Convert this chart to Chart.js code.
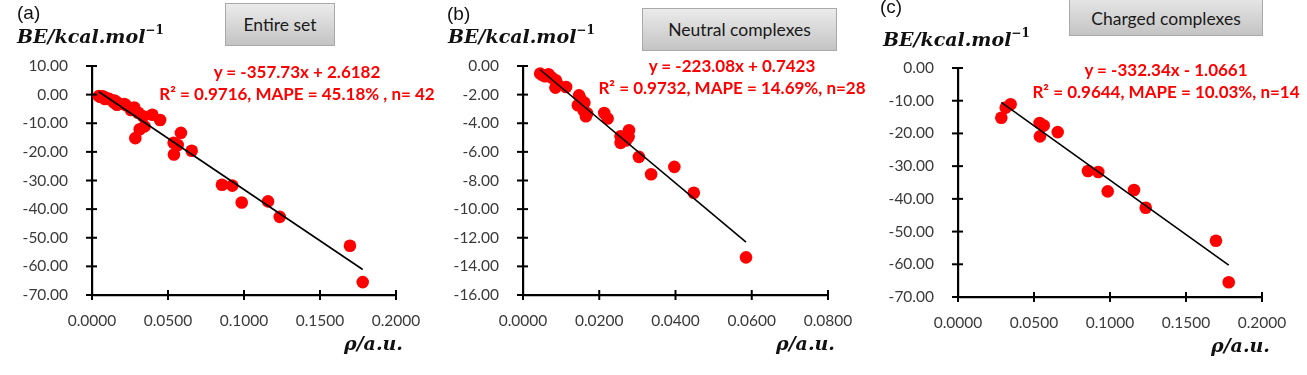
<!DOCTYPE html>
<html>
<head>
<meta charset="utf-8">
<script src="https://cdn.jsdelivr.net/npm/chart.js@4.4.1/dist/chart.umd.min.js"></script>
<style>
  html, body { margin: 0; padding: 0; background: #fff; }
  body { width: 1307px; height: 375px; position: relative; overflow: hidden; }
  .panel { position: absolute; top: 0; height: 375px; }
  canvas { position: absolute; left: 0; top: 0; }
  .lbl { position: absolute; white-space: nowrap; }
  .tag { font-family: "Liberation Sans", Arial, sans-serif; font-size: 19px; color: #111; }
  .ytitle { font-family: "DejaVu Serif", serif; font-weight: bold; font-style: italic; font-size: 19px; color: #111; }
  .ytitle sup { font-style: normal; font-size: 12px; position: relative; top: -2px; }
  .xtitle { font-family: "DejaVu Serif", serif; font-weight: bold; font-style: italic; font-size: 19px; color: #111; }
  .box { position: absolute; box-sizing: border-box; border: 1px solid #a9a9a9;
         background: linear-gradient(#ebebeb, #c4c4c4); font-family: Lato, "Open Sans", sans-serif;
         font-size: 17.5px; color: #1a1a1a; display: flex; align-items: center; justify-content: center; }
  .eq { position: absolute; white-space: nowrap; transform: translateX(-50%);
        font-family: Lato, "Open Sans", sans-serif; font-weight: bold; font-size: 17px; color: #ff0000; }
</style>
</head>
<body>
<div class="panel" id="pa" style="left:0;width:436px;"><canvas id="ca" width="436" height="375"></canvas></div>
<div class="panel" id="pb" style="left:430px;width:436px;"><canvas id="cb" width="436" height="375"></canvas></div>
<div class="panel" id="pc" style="left:860px;width:447px;"><canvas id="cc" width="447" height="375"></canvas></div>

<div class="lbl tag" style="left:17px;top:2px;">(a)</div>
<div class="lbl tag" style="left:447px;top:3px;">(b)</div>
<div class="lbl tag" style="left:880px;top:-4px;">(c)</div>

<div class="lbl ytitle" style="left:17px;top:25px;">BE/kcal.mol<sup>−1</sup></div>
<div class="lbl ytitle" style="left:448px;top:25px;">BE/kcal.mol<sup>−1</sup></div>
<div class="lbl ytitle" style="left:883px;top:28px;">BE/kcal.mol<sup>−1</sup></div>

<div class="lbl xtitle" style="left:344px;top:332px;">ρ/a.u.</div>
<div class="lbl xtitle" style="left:776px;top:332px;">ρ/a.u.</div>
<div class="lbl xtitle" style="left:1211px;top:334px;">ρ/a.u.</div>

<div class="box" style="left:225px;top:3px;width:110px;height:43px;">Entire set</div>
<div class="box" style="left:642px;top:8px;width:195px;height:43px;">Neutral complexes</div>
<div class="box" style="left:1069px;top:-8px;width:194px;height:44px;padding-top:8px;">Charged complexes</div>

<div class="eq" style="left:297px;top:61px;">y = -357.73x + 2.6182</div>
<div class="eq" style="left:297px;top:83px;">R² = 0.9716, MAPE = 45.18% , n= 42</div>
<div class="eq" style="left:732px;top:55px;">y = -223.08x + 0.7423</div>
<div class="eq" style="left:732px;top:77px;">R² = 0.9732, MAPE = 14.69%, n=28</div>
<div class="eq" style="left:1166px;top:59px;">y = -332.34x - 1.0661</div>
<div class="eq" style="left:1166px;top:81px;">R² = 0.9644, MAPE = 10.03%, n=14</div>

<script>
// ---- data (rho in a.u., BE in kcal/mol) ----
const neutralRho = [0.0045, 0.0052, 0.0058, 0.0067, 0.0075, 0.0086, 0.0085, 0.0090, 0.0113, 0.0147,
                    0.0144, 0.0152, 0.0161, 0.0159, 0.0165, 0.0168, 0.0213, 0.0222, 0.0256, 0.0256,
                    0.0278, 0.0277, 0.0270, 0.0304, 0.0336, 0.0397, 0.0448, 0.0585];
const neutralBE  = [-0.53, -0.65, -0.72, -0.58, -0.80, -1.00, -1.51, -1.25, -1.47, -2.05,
                    -2.74, -2.35, -2.56, -3.09, -3.51, -3.30, -3.28, -3.67, -4.91, -5.37,
                    -4.49, -4.95, -5.20, -6.35, -7.56, -7.05, -8.86, -13.37];
const chargedRho = [0.0285, 0.0314, 0.0346, 0.0537, 0.0564, 0.0539, 0.0656, 0.0855, 0.0923, 0.0985,
                    0.1158, 0.1235, 0.1697, 0.1781];
const chargedBE  = [-15.2, -12.1, -11.1, -16.8, -17.6, -20.9, -19.6, -31.5, -31.8, -37.7,
                    -37.3, -42.7, -52.8, -65.5];
// entire set = neutral + charged (n = 42)
const entireRho = neutralRho.concat(chargedRho);
const entireBE  = neutralBE.concat(chargedBE);

// regression lines as printed
const slopes     = [-357.73, -223.08, -332.34];
const intercepts = [2.6182, 0.7423, -1.0661];

// axis ranges / tick steps
const xMax   = [0.2, 0.08, 0.2];
const xStep  = [0.05, 0.02, 0.05];
const yMin   = [-70, -16, -70];
const yMax   = [10, 0, 0];
const yStep  = [10, 2, 10];

// ---- helpers ----
function pts(xs, ys) { return xs.map((x, i) => ({ x: x, y: ys[i] })); }
function trend(xs, k) {
  const lo = Math.min(...xs), hi = Math.max(...xs);
  return [{ x: lo, y: slopes[k] * lo + intercepts[k] }, { x: hi, y: slopes[k] * hi + intercepts[k] }];
}

const crossTicks = {
  id: 'crossTicks',
  afterDatasetsDraw(chart) {
    const c = chart.ctx, xs = chart.scales.x, ys = chart.scales.y;
    c.save();
    c.strokeStyle = '#000';
    c.lineWidth = 2;
    ys.ticks.forEach((t, i) => {
      const py = ys.getPixelForTick(i);
      c.beginPath(); c.moveTo(xs.left - 6, py); c.lineTo(xs.left + 5, py); c.stroke();
    });
    xs.ticks.forEach((t, i) => {
      const px = xs.getPixelForTick(i);
      c.beginPath(); c.moveTo(px, ys.bottom - 5); c.lineTo(px, ys.bottom + 5); c.stroke();
    });
    c.restore();
  }
};

function makeChart(id, k, xs, ys, area) {
  const [L, R, T, B, W, H] = area;
  new Chart(document.getElementById(id), {
    type: 'scatter',
    data: {
      datasets: [
        { type: 'line', data: trend(xs, k), borderColor: '#000', borderWidth: 1.6,
          pointRadius: 0, fill: false, tension: 0, order: 0 },
        { data: pts(xs, ys), backgroundColor: '#ff0000', borderColor: '#ff0000',
          pointRadius: 6.3, pointHoverRadius: 6.3, borderWidth: 0, order: 1 }
      ]
    },
    options: {
      responsive: false,
      animation: false,
      events: [],
      layout: { padding: { left: 0, right: W - R, top: T, bottom: 0 } },
      plugins: { legend: { display: false }, tooltip: { enabled: false } },
      scales: {
        x: {
          type: 'linear', min: 0, max: xMax[k],
          afterFit: (s) => { s.height = H - B; },
          border: { display: true, color: '#000', width: 2.2 },
          grid: { display: false },
          ticks: { stepSize: xStep[k], padding: 9, color: '#3a3a3a',
                   font: { family: 'Lato', size: 15.5 },
                   maxRotation: 0, autoSkip: false,
                   callback: (v) => Number(v).toFixed(4) }
        },
        y: {
          type: 'linear', min: yMin[k], max: yMax[k],
          afterFit: (s) => { s.width = L; },
          border: { display: true, color: '#000', width: 2.2 },
          grid: { display: false },
          ticks: { stepSize: yStep[k], padding: 16, color: '#3a3a3a',
                   font: { family: 'Lato', size: 15.5 },
                   callback: (v) => Number(v).toFixed(2) }
        }
      }
    },
    plugins: [crossTicks]
  });
}

makeChart('ca', 0, entireRho, entireBE, [92, 396, 66, 295, 436, 375]);
makeChart('cb', 1, neutralRho, neutralBE, [93, 398, 66, 295, 436, 375]);
makeChart('cc', 2, chargedRho, chargedBE, [98, 402, 68, 297, 447, 375]);
</script>
</body>
</html>
